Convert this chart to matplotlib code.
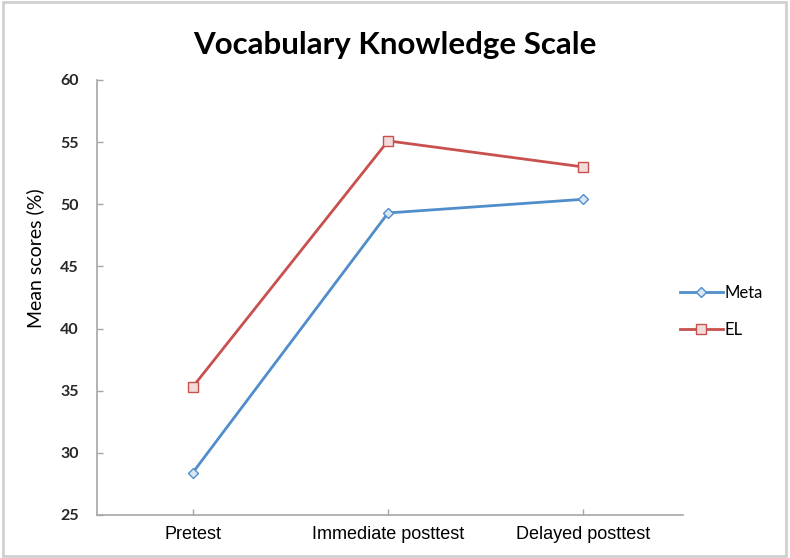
import matplotlib

matplotlib.use("Agg")
import matplotlib.pyplot as plt
from matplotlib.patches import Rectangle

# data
categories = ["Pretest", "Immediate posttest", "Delayed posttest"]
meta_scores = [28.4, 49.3, 50.4]
el_scores = [35.3, 55.1, 53.0]
y_ticks = [25, 30, 35, 40, 45, 50, 55, 60]

BLUE = "#4F8DCB"
RED = "#C8504D"
AXIS_GREY = "#A6A6A6"

fig = plt.figure(figsize=(7.9, 5.58), dpi=100)
ax = fig.add_axes([0.1228, 0.0771, 0.7418, 0.7796])

x = list(range(len(categories)))
ax.plot(x, meta_scores, color=BLUE, lw=2.0, marker="D", ms=5.5,
        mfc="#DCE6F2", mec=BLUE, mew=1.0, label="Meta")
ax.plot(x, el_scores, color=RED, lw=2.0, marker="s", ms=7,
        mfc="#F2DCDB", mec=RED, mew=1.0, label="EL")

ax.set_xlim(-0.49, 2.51)
ax.set_ylim(25, 60)
ax.set_yticks(y_ticks)
ax.set_xticks(x)
ax.set_xticklabels(categories, family="Liberation Sans", fontsize=13)
for lab in ax.get_yticklabels():
    lab.set_family("Lato")
    lab.set_fontsize(11.5)
    lab.set_fontweight("bold")
    lab.set_color("#262626")

for side in ("top", "right"):
    ax.spines[side].set_visible(False)
for side in ("left", "bottom"):
    ax.spines[side].set_color(AXIS_GREY)
    ax.spines[side].set_linewidth(1.2)
ax.tick_params(axis="both", direction="in", length=4, color=AXIS_GREY, width=1.0)
ax.tick_params(axis="y", pad=13)
ax.tick_params(axis="x", pad=8)

ax.set_ylabel("Mean scores (%)", family="Lato", fontsize=14)
ax.yaxis.set_label_coords(-0.09, 0.59)

fig.suptitle("Vocabulary Knowledge Scale", x=0.5, y=0.945, family="Lato",
             fontweight="bold", fontsize=22.5)

leg = ax.legend(loc="center left", bbox_to_anchor=(0.983, 0.468), frameon=False,
                borderaxespad=0, prop={"family": "Lato", "size": 12},
                handlelength=2.6, handletextpad=0.1, labelspacing=1.3)

# outer chart border
fig.patches.append(Rectangle((0.004, 0.003), 0.991, 0.993, transform=fig.transFigure,
                             fill=False, edgecolor="#D0D0D0", lw=2.0))

fig.savefig("out.png", dpi=100)
